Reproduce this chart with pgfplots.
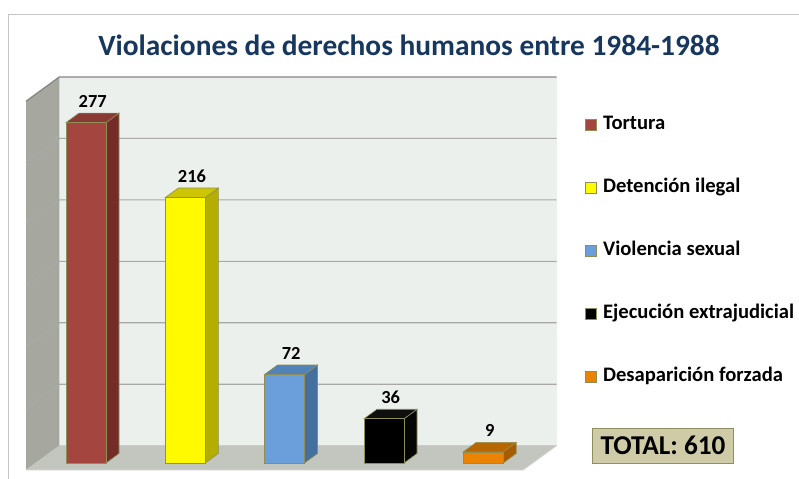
\documentclass[border=0pt]{standalone}
\usepackage{fontspec}
\setmainfont{Carlito}
\usepackage{pgfplots}
\pgfplotsset{compat=1.18}
\definecolor{titlec}{HTML}{17375E}
\definecolor{wallback}{HTML}{ECF0EC}
\definecolor{wallside}{HTML}{A6A8A0}
\definecolor{floorc}{HTML}{C3C5BF}
\definecolor{gridc}{HTML}{A8A8A8}
\definecolor{edgec}{HTML}{8E8E55}
\definecolor{tortF}{HTML}{A4463F}\definecolor{tortS}{HTML}{732C28}\definecolor{tortT}{HTML}{8A3A34}
\definecolor{detF}{HTML}{FFFA00}\definecolor{detS}{HTML}{B4AE00}\definecolor{detT}{HTML}{CCC500}
\definecolor{vioF}{HTML}{6A9FDB}\definecolor{vioS}{HTML}{446F9E}\definecolor{vioT}{HTML}{5283B8}
\definecolor{ejeF}{HTML}{000000}\definecolor{ejeS}{HTML}{050505}\definecolor{ejeT}{HTML}{0F0F0F}
\definecolor{desF}{HTML}{EB8200}\definecolor{desS}{HTML}{A85C00}\definecolor{desT}{HTML}{B86600}
\definecolor{totalF}{HTML}{CFCBA7}
\definecolor{totalE}{HTML}{8F8E60}
\definecolor{framec}{HTML}{C4C4C4}
\begin{document}
\begin{tikzpicture}
\begin{axis}[
  scale only axis, width=799bp, height=479bp,
  xmin=0, xmax=799, ymin=-13.019, ymax=376.73,
  hide axis, clip=false,
  /pgf/number format/assume math mode=true,
  face/.style={forget plot, draw=edgec, line width=0.6bp},
  front/.style={ybar, bar width=40, bar shift=0pt, draw=edgec, line width=0.6bp,
    nodes near coords,
    nodes near coords style={font=\bfseries\fontsize{18.5}{20}\selectfont, text=black, anchor=center, xshift=6.7bp, yshift=21bp},
    legend image code/.code={\draw[##1, draw=edgec, line width=0.6bp] (0bp,-5bp) rectangle (11bp,6bp);}},
  legend style={at={(axis cs:585,282.9)}, anchor=north west, draw=none, fill=none,
    inner sep=0pt, outer sep=0pt,
    font=\bfseries\fontsize{20.7}{23}\selectfont, row sep=44bp,
    nodes={inner sep=0pt, text height=14bp, text depth=5bp},
    /tikz/every odd column/.append style={column sep=6.5bp}},
  legend cell align=left,
]
% frame
\draw[framec, line width=1.2bp] (axis cs:8.5,-13.019) -- (axis cs:8.5,364.9) -- (axis cs:799,364.9);
% walls
\fill[wallback] (axis cs:59.3,14.08) rectangle (axis cs:556.7,314.08);
\fill[wallside] (axis cs:26,-5.7) -- (axis cs:59.3,14.08) -- (axis cs:59.3,314.08) -- (axis cs:26,294.3) -- cycle;
\fill[floorc] (axis cs:26,-5.7) -- (axis cs:59.3,14.08) -- (axis cs:556.7,14.08) -- (axis cs:523.3,-5.7) -- cycle;
% grid
\pgfplotsinvokeforeach{1,...,5}{
  \draw[gridc, line width=1.1bp] (axis cs:26,{-5.7+50*#1}) -- (axis cs:59.3,{14.08+50*#1}) -- (axis cs:556.7,{14.08+50*#1});
}
\draw[gridc!80!black, line width=1.3bp] (axis cs:26,294.3) -- (axis cs:59.3,314.08) -- (axis cs:556.7,314.08);
\draw[gridc!60, line width=0.8bp] (axis cs:59.3,14.08) -- (axis cs:556.7,14.08);
\draw[white!85!black, line width=0.8bp] (axis cs:26,-5.7) -- (axis cs:523.3,-5.7) -- (axis cs:556.7,14.08);
% side and top faces
\addplot[face, fill=tortS] coordinates {(106,0) (119,7.73) (119,284.73) (106,277)} -- cycle;
\addplot[face, fill=tortT] coordinates {(66,277) (106,277) (119,284.73) (79,284.73)} -- cycle;
\addplot[face, fill=detS] coordinates {(205.3,0) (218.3,7.73) (218.3,223.73) (205.3,216)} -- cycle;
\addplot[face, fill=detT] coordinates {(165.3,216) (205.3,216) (218.3,223.73) (178.3,223.73)} -- cycle;
\addplot[face, fill=vioS] coordinates {(304.5,0) (317.5,7.73) (317.5,79.73) (304.5,72)} -- cycle;
\addplot[face, fill=vioT] coordinates {(264.5,72) (304.5,72) (317.5,79.73) (277.5,79.73)} -- cycle;
\addplot[face, fill=ejeS] coordinates {(404,0) (417,7.73) (417,43.73) (404,36)} -- cycle;
\addplot[face, fill=ejeT] coordinates {(364,36) (404,36) (417,43.73) (377,43.73)} -- cycle;
\addplot[face, fill=desS] coordinates {(503.2,0) (516.2,7.73) (516.2,16.73) (503.2,9)} -- cycle;
\addplot[face, fill=desT] coordinates {(463.2,9) (503.2,9) (516.2,16.73) (476.2,16.73)} -- cycle;
% front faces
\addplot[front, fill=tortF] coordinates {(86,277)};
\addlegendentry{Tortura}
\addplot[front, fill=detF] coordinates {(185.3,216)};
\addlegendentry{Detención ilegal}
\addplot[front, fill=vioF] coordinates {(284.5,72)};
\addlegendentry{Violencia sexual}
\addplot[front, fill=ejeF] coordinates {(384,36)};
\addlegendentry{Ejecución extrajudicial}
\addplot[front, fill=desF] coordinates {(483.2,9)};
\addlegendentry{Desaparición forzada}
% title
\node[anchor=base, text=titlec, font=\bfseries\fontsize{29.5}{34}\selectfont] at (axis cs:409,331.16) {Violaciones de derechos humanos entre 1984-1988};
% total box
\node[draw=totalE, fill=totalF, line width=1bp, minimum width=140.6bp, minimum height=35bp, inner sep=0pt,
  font=\bfseries\fontsize{27.3}{31}\selectfont] at (axis cs:663,14.0) {TOTAL: 610};
\end{axis}
\pgfresetboundingbox
\useasboundingbox (current axis.south west) rectangle (current axis.north east);
\end{tikzpicture}
\end{document}
